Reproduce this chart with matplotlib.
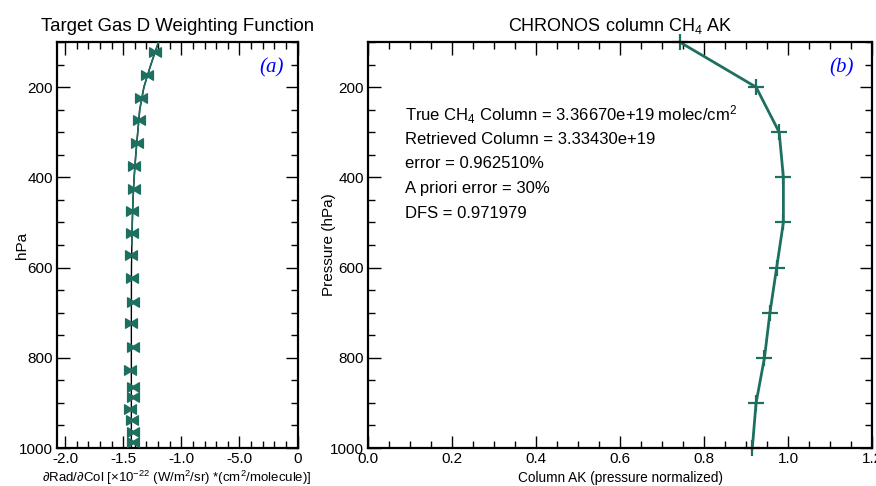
import matplotlib
matplotlib.use("Agg")
import matplotlib.pyplot as plt
from matplotlib.path import Path
from matplotlib.ticker import MultipleLocator, FixedLocator, FixedFormatter

plt.rcParams['font.family'] = ['Liberation Sans', 'DejaVu Sans']
plt.rcParams['mathtext.default'] = 'regular'

# panel (a): weighting function at the retrieval levels
wf_pres = [123, 173, 224, 273, 325, 375, 425, 475, 524, 573, 624, 676, 724,
           777, 826, 864, 888, 914, 938, 964, 987]
wf_vals = [-1.224, -1.296, -1.347, -1.368, -1.382, -1.405, -1.411, -1.422, -1.422,
           -1.431, -1.428, -1.420, -1.437, -1.420, -1.440, -1.420, -1.416, -1.440,
           -1.428, -1.416, -1.414]
# smooth curve through the profile
curve_pres = [100, 150, 200, 250, 300, 350, 400, 450, 500, 550, 600, 700, 800, 900, 1000]
curve_vals = [-1.196, -1.262, -1.322, -1.358, -1.375, -1.392, -1.406, -1.416, -1.422,
              -1.426, -1.429, -1.430, -1.430, -1.430, -1.430]
wf_xticks = [-2.0, -1.5, -1.0, -0.5, 0.0]
wf_xticklabels = ['-2.0', '-1.5', '-1.0', '-5.0', '0']

# panel (b): column averaging kernel
ak_pres = [100, 200, 300, 400, 500, 600, 700, 800, 900, 1000]
ak_vals = [0.742, 0.924, 0.979, 0.989, 0.989, 0.973, 0.957, 0.944, 0.924, 0.915]

info_lines = [
    'True CH$_4$ Column = 3.36670e+19 molec/cm$^2$',
    'Retrieved Column = 3.33430e+19',
    'error = 0.962510%',
    'A priori error = 30%',
    'DFS = 0.971979',
]

teal = '#1d6f60'

bowtie = Path([(-1, -0.8), (0, -0.2), (1, -0.8), (1, 0.8), (0, 0.2), (-1, 0.8), (-1, -0.8)],
              [Path.MOVETO, Path.LINETO, Path.LINETO, Path.LINETO, Path.LINETO, Path.LINETO,
               Path.CLOSEPOLY])

fig = plt.figure(figsize=(8.76, 4.86), dpi=100)
ax1 = fig.add_axes([57 / 876, 38 / 486, 240.5 / 876, 406 / 486])
ax2 = fig.add_axes([368 / 876, 38 / 486, 504 / 876, 406 / 486])


def style_axes(ax):
    for s in ax.spines.values():
        s.set_linewidth(1.6)
    ax.tick_params(which='both', direction='in', top=True, right=True, labelsize=11, pad=3)
    ax.tick_params(which='major', length=9, width=1.0)
    ax.tick_params(which='minor', length=5, width=1.0)
    ax.set_ylim(1000, 100)
    ax.yaxis.set_major_locator(FixedLocator([200, 400, 600, 800, 1000]))
    ax.yaxis.set_minor_locator(MultipleLocator(50))


# ---- (a)
ax1.plot(curve_vals, curve_pres, color='black', lw=1.0, zorder=2)
up = [i for i, p in enumerate(curve_pres) if p <= 550]
ax1.plot([curve_vals[i] for i in up], [curve_pres[i] for i in up], color=teal, lw=1.2, zorder=3)
ax1.plot(wf_vals, wf_pres, ls='none', marker=bowtie, ms=8.5, color=teal, zorder=4)
ax1.set_xlim(-2.07, 0)
style_axes(ax1)
ax1.xaxis.set_major_locator(FixedLocator(wf_xticks))
ax1.xaxis.set_major_formatter(FixedFormatter(wf_xticklabels))
ax1.xaxis.set_minor_locator(MultipleLocator(0.1))
ax1.set_title('Target Gas D Weighting Function', fontsize=13.4, pad=8)
ax1.set_ylabel('hPa', fontsize=11)
ax1.yaxis.set_label_coords(-0.116, 0.5)
ax1.set_xlabel('\u2202Rad/\u2202Col [\u00d710$^{-22}$ (W/m$^2$/sr) *(cm$^2$/molecule)]',
               fontsize=9.5, va='center')
ax1.xaxis.set_label_coords(0.5, -0.074)
ax1.text(0.89, 0.936, '(a)', transform=ax1.transAxes, color='blue', fontsize=15,
         family='Liberation Serif', style='italic', ha='center', va='center')

# ---- (b)
ax2.plot(ak_vals, ak_pres, color=teal, lw=2.0, marker='+', ms=11, mew=1.6, clip_on=False)
ax2.set_xlim(0, 1.2)
style_axes(ax2)
ax2.xaxis.set_major_locator(MultipleLocator(0.2))
ax2.xaxis.set_minor_locator(MultipleLocator(0.05))
ax2.set_title('CHRONOS column CH$_4$ AK', fontsize=13, pad=8)
ax2.set_ylabel('Pressure (hPa)', fontsize=11)
ax2.yaxis.set_label_coords(-0.063, 0.5)
ax2.set_xlabel('Column AK (pressure normalized)', fontsize=9.8, va='center')
ax2.xaxis.set_label_coords(0.5, -0.074)
ax2.text(0.94, 0.936, '(b)', transform=ax2.transAxes, color='blue', fontsize=15,
         family='Liberation Serif', style='italic', ha='center', va='center')

line_y = [115, 139, 163, 188, 213]
for txt, yy in zip(info_lines, line_y):
    ax2.text(0.073, (448 - yy) / 406, txt, transform=ax2.transAxes, fontsize=12,
             ha='left', va='center')

fig.savefig('out.png', dpi=100)
